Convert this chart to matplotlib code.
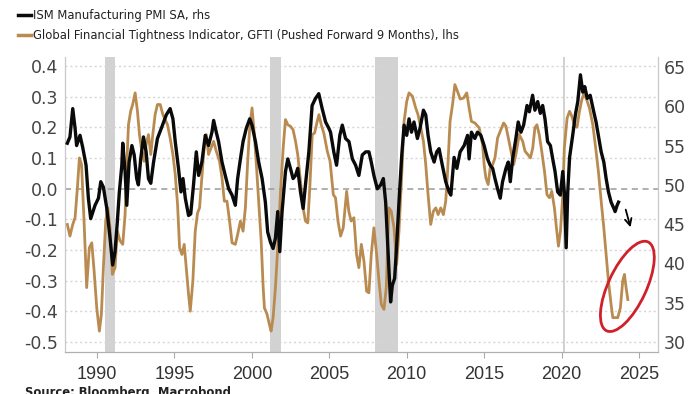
import matplotlib
matplotlib.use("Agg")
import matplotlib.pyplot as plt
from matplotlib.lines import Line2D
from matplotlib.patches import Ellipse
from matplotlib.transforms import IdentityTransform
from matplotlib import font_manager
import numpy as np

# ---------------- data ----------------
pmi_years = [1988.08, 1988.25, 1988.43, 1988.58, 1988.68, 1988.90, 1989.07, 1989.29, 1989.44, 1989.59,
             1989.87, 1990.09, 1990.24, 1990.41, 1990.63, 1990.84, 1991.01, 1991.16, 1991.31, 1991.44,
             1991.60, 1991.66, 1991.81, 1991.92, 1992.07, 1992.25, 1992.40, 1992.56, 1992.67, 1992.82,
             1993.00, 1993.17, 1993.32, 1993.47, 1993.65, 1993.90, 1994.19, 1994.47, 1994.72, 1994.90,
             1995.05, 1995.26, 1995.42, 1995.55, 1995.70, 1995.91, 1996.05, 1996.23, 1996.41, 1996.56,
             1996.77, 1996.99, 1997.20, 1997.42, 1997.53, 1997.70, 1997.85, 1998.07, 1998.28, 1998.50,
             1998.72, 1998.93, 1999.08, 1999.26, 1999.43, 1999.64, 1999.86, 2000.01, 2000.23, 2000.44,
             2000.66, 2000.87, 2001.02, 2001.20, 2001.37, 2001.52, 2001.67, 2001.80, 2001.95, 2002.17,
             2002.32, 2002.49, 2002.66, 2002.82, 2002.96, 2003.14, 2003.31, 2003.46, 2003.68, 2003.89,
             2004.11, 2004.32, 2004.54, 2004.76, 2004.97, 2005.08, 2005.29, 2005.47, 2005.68, 2005.84,
             2006.05, 2006.27, 2006.49, 2006.70, 2006.91, 2007.13, 2007.35, 2007.56, 2007.71, 2007.88,
             2008.10, 2008.32, 2008.49, 2008.64, 2008.75, 2008.85, 2008.96, 2009.07, 2009.22, 2009.35,
             2009.50, 2009.68, 2009.83, 2010.00, 2010.15, 2010.31, 2010.47, 2010.69, 2010.86, 2011.08,
             2011.23, 2011.38, 2011.55, 2011.77, 2011.94, 2012.09, 2012.30, 2012.52, 2012.74, 2012.85,
             2013.06, 2013.24, 2013.45, 2013.71, 2013.93, 2014.03, 2014.18, 2014.40, 2014.57, 2014.79,
             2015.00, 2015.22, 2015.39, 2015.55, 2015.70, 2015.87, 2016.04, 2016.19, 2016.41, 2016.56,
             2016.69, 2016.84, 2017.05, 2017.20, 2017.38, 2017.55, 2017.77, 2017.92, 2018.13, 2018.28,
             2018.46, 2018.63, 2018.78, 2018.93, 2019.10, 2019.28, 2019.43, 2019.58, 2019.75, 2019.92,
             2020.08, 2020.18, 2020.30, 2020.40, 2020.52, 2020.72, 2020.90, 2021.05, 2021.22, 2021.37,
             2021.50, 2021.66, 2021.85, 2022.08, 2022.23, 2022.38, 2022.56, 2022.73, 2022.88, 2023.03,
             2023.20, 2023.38, 2023.46, 2023.59, 2023.68]
pmi_values = [55.3, 56.1, 59.7, 57.2, 55.0, 56.3, 54.8, 52.5, 48.3, 45.7,
              47.4, 48.3, 50.4, 49.7, 47.0, 43.2, 39.8, 41.5, 45.3, 49.1,
              52.5, 55.3, 51.7, 47.4, 52.9, 55.0, 53.8, 50.8, 50.0, 53.3,
              56.1, 54.2, 50.8, 50.2, 52.9, 55.9, 57.4, 58.9, 59.7, 58.4,
              55.5, 52.1, 49.1, 50.8, 48.3, 46.1, 46.3, 50.0, 54.2, 51.2,
              52.9, 56.3, 55.0, 56.7, 58.2, 56.7, 55.5, 52.9, 51.2, 49.5,
              48.7, 47.4, 50.8, 53.3, 55.5, 57.2, 58.4, 57.6, 55.5, 52.9,
              50.8, 47.8, 44.0, 42.7, 41.9, 43.2, 46.6, 41.5, 46.6, 51.7,
              53.3, 52.1, 50.8, 51.2, 52.1, 49.1, 47.0, 50.0, 54.2, 60.1,
              61.0, 61.6, 59.7, 58.0, 57.2, 56.7, 54.2, 52.5, 56.3, 57.6,
              55.9, 55.5, 53.3, 52.5, 51.2, 53.8, 54.2, 54.2, 52.9, 51.2,
              49.5, 50.0, 50.8, 47.8, 43.2, 39.3, 35.1, 37.2, 38.1, 42.3,
              47.8, 53.8, 57.6, 56.3, 58.4, 56.7, 58.0, 55.9, 57.2, 59.5,
              58.9, 56.3, 54.2, 52.9, 54.2, 54.6, 52.5, 50.4, 49.1, 48.7,
              53.5, 52.1, 54.2, 55.0, 56.3, 53.3, 56.7, 55.9, 56.7, 56.3,
              55.0, 53.3, 52.5, 52.1, 50.8, 49.5, 48.3, 50.4, 52.1, 52.9,
              50.4, 53.3, 55.9, 58.0, 56.7, 57.6, 60.1, 59.3, 61.4, 59.5,
              60.6, 59.1, 60.1, 58.4, 55.5, 55.0, 53.3, 51.7, 49.1, 48.7,
              51.7, 49.1, 42.0, 49.1, 53.5, 56.3, 59.0, 60.6, 64.0, 61.8,
              62.5, 61.0, 61.4, 59.3, 58.0, 56.3, 54.2, 52.9, 50.8, 49.1,
              47.8, 47.0, 46.6, 47.4, 47.8]

gfti_years = [1988.08, 1988.25, 1988.43, 1988.58, 1988.73, 1988.86, 1989.00, 1989.16, 1989.33, 1989.50,
              1989.66, 1989.81, 1989.98, 1990.15, 1990.28, 1990.41, 1990.56, 1990.69, 1990.84, 1990.99,
              1991.16, 1991.31, 1991.49, 1991.66, 1991.81, 1991.92, 1992.03, 1992.17, 1992.30, 1992.46,
              1992.61, 1992.74, 1992.89, 1993.04, 1993.17, 1993.32, 1993.47, 1993.60, 1993.75, 1993.90,
              1994.08, 1994.25, 1994.40, 1994.55, 1994.72, 1994.90, 1995.05, 1995.20, 1995.33, 1995.48,
              1995.63, 1995.76, 1995.91, 1996.02, 1996.19, 1996.34, 1996.49, 1996.62, 1996.77, 1996.93,
              1997.06, 1997.20, 1997.36, 1997.53, 1997.70, 1997.91, 1998.07, 1998.22, 1998.39, 1998.56,
              1998.72, 1998.93, 1999.08, 1999.26, 1999.43, 1999.58, 1999.73, 1999.86, 2000.01, 2000.16,
              2000.29, 2000.44, 2000.60, 2000.73, 2000.81, 2000.98, 2001.13, 2001.24, 2001.37, 2001.52,
              2001.67, 2001.84, 2002.02, 2002.17, 2002.32, 2002.49, 2002.66, 2002.82, 2002.96, 2003.14,
              2003.31, 2003.46, 2003.61, 2003.74, 2003.90, 2004.05, 2004.22, 2004.33, 2004.48, 2004.65,
              2004.87, 2005.05, 2005.26, 2005.40, 2005.56, 2005.73, 2005.90, 2006.12, 2006.26, 2006.41,
              2006.59, 2006.76, 2006.91, 2007.07, 2007.24, 2007.41, 2007.56, 2007.71, 2007.88, 2008.06,
              2008.21, 2008.36, 2008.53, 2008.68, 2008.85, 2009.00, 2009.18, 2009.35, 2009.50, 2009.66,
              2009.83, 2010.00, 2010.15, 2010.37, 2010.58, 2010.73, 2010.91, 2011.08, 2011.23, 2011.38,
              2011.55, 2011.72, 2011.88, 2012.03, 2012.20, 2012.37, 2012.52, 2012.63, 2012.80, 2012.96,
              2013.11, 2013.28, 2013.45, 2013.67, 2013.88, 2014.03, 2014.18, 2014.40, 2014.68, 2014.90,
              2015.00, 2015.11, 2015.26, 2015.39, 2015.55, 2015.70, 2015.87, 2016.04, 2016.26, 2016.41,
              2016.56, 2016.73, 2016.91, 2017.05, 2017.27, 2017.49, 2017.64, 2017.82, 2017.99, 2018.14,
              2018.28, 2018.41, 2018.56, 2018.72, 2018.90, 2019.06, 2019.22, 2019.37, 2019.54, 2019.67,
              2019.80, 2019.93, 2020.08, 2020.18, 2020.36, 2020.52, 2020.67, 2020.84, 2021.00, 2021.15,
              2021.31, 2021.45, 2021.62, 2021.80, 2022.02, 2022.23, 2022.38, 2022.56, 2022.73, 2022.88,
              2023.03, 2023.20, 2023.31, 2023.46, 2023.63, 2023.80, 2023.95, 2024.06, 2024.17, 2024.28]
gfti_values = [-0.117, -0.155, -0.117, -0.095, 0.002, 0.100, 0.078, -0.106, -0.323, -0.193,
               -0.177, -0.269, -0.389, -0.465, -0.410, -0.258, -0.106, -0.063, -0.128, -0.280,
               -0.258, -0.139, -0.171, -0.182, -0.085, 0.078, 0.208, 0.252, 0.274, 0.312,
               0.252, 0.176, 0.122, 0.089, 0.143, 0.176, 0.111, 0.176, 0.241, 0.274,
               0.274, 0.241, 0.225, 0.208, 0.165, 0.111, 0.046, -0.052, -0.193, -0.215,
               -0.182, -0.258, -0.345, -0.400, -0.300, -0.140, -0.080, -0.063, 0.035, 0.143,
               0.176, 0.111, 0.132, 0.154, 0.122, 0.089, 0.035, -0.041, -0.041, -0.106,
               -0.177, -0.182, -0.150, -0.106, -0.139, -0.063, 0.089, 0.198, 0.263, 0.176,
               0.078, -0.041, -0.171, -0.323, -0.389, -0.410, -0.443, -0.465, -0.421, -0.323,
               -0.193, -0.020, 0.132, 0.225, 0.208, 0.203, 0.192, 0.154, 0.111, 0.024,
               -0.063, -0.106, -0.112, 0.002, 0.176, 0.181, 0.219, 0.241, 0.208, 0.180,
               0.122, 0.089, -0.020, -0.030, -0.106, -0.155, -0.128, -0.009, -0.074, -0.106,
               -0.095, -0.215, -0.258, -0.182, -0.237, -0.335, -0.340, -0.215, -0.128, -0.215,
               -0.302, -0.378, -0.394, -0.323, -0.063, -0.074, -0.128, -0.248, -0.139, 0.024,
               0.219, 0.284, 0.312, 0.301, 0.263, 0.241, 0.198, 0.154, 0.078, -0.020,
               -0.117, -0.074, -0.063, -0.085, -0.063, -0.085, -0.041, 0.046, 0.219, 0.274,
               0.339, 0.317, 0.292, 0.295, 0.312, 0.263, 0.219, 0.214, 0.198, 0.143,
               0.078, 0.035, 0.013, 0.067, 0.078, 0.100, 0.165, 0.187, 0.214, 0.203,
               0.165, 0.122, 0.078, 0.111, 0.176, 0.154, 0.122, 0.111, 0.100, 0.132,
               0.198, 0.208, 0.176, 0.122, 0.056, -0.020, -0.030, -0.009, -0.063, -0.128,
               -0.188, -0.139, -0.020, 0.132, 0.230, 0.252, 0.235, 0.205, 0.200, 0.250,
               0.290, 0.310, 0.290, 0.263, 0.208, 0.122, 0.056, -0.041, -0.128, -0.215,
               -0.302, -0.378, -0.421, -0.421, -0.421, -0.389, -0.302, -0.280, -0.323, -0.362]

recessions = [(1990.52, 1991.17), (2001.2, 2001.85), (2007.92, 2009.45), (2020.1, 2020.2)]

left_ticks = [0.4, 0.3, 0.2, 0.1, 0.0, -0.1, -0.2, -0.3, -0.4, -0.5]
right_ticks = [65, 60, 55, 50, 45, 40, 35, 30]
x_ticks = [1990, 1995, 2000, 2005, 2010, 2015, 2020, 2025]

label_pmi = "ISM Manufacturing PMI SA, rhs"
label_gfti = "Global Financial Tightness Indicator, GFTI (Pushed Forward 9 Months), lhs"
source_text = "Source: Bloomberg, Macrobond"

# ---------------- style ----------------
GOLD = "#b98b51"
BLACK = "#0a0a0a"
TICKCOL = "#444444"

# pick the narrowest available sans family for the condensed legend text
names = {f.name for f in font_manager.fontManager.ttflist}
cond_stretch = any(("DejaVu Sans" == f.name and f.stretch == "condensed") for f in font_manager.fontManager.ttflist)
if "Liberation Sans Narrow" in names:
    LEG_FAMILY, LEG_STRETCH = "Liberation Sans Narrow", "normal"
elif cond_stretch:
    LEG_FAMILY, LEG_STRETCH = "DejaVu Sans", "condensed"
else:
    LEG_FAMILY, LEG_STRETCH = "Roboto", "normal"

fig = plt.figure(figsize=(7.0, 3.94), dpi=100)
ax = fig.add_axes([65/700, 1-352/394, (658-65)/700, (352-57)/394])
ax2 = ax.twinx()

for a, b in recessions:
    ax.axvspan(a, b, color="#d2d2d2", lw=0, zorder=0)

for t in left_ticks:
    if t == 0.0:
        ax.axhline(t, color="#9a9a9a", lw=1.1, ls=(0, (4, 3)), zorder=1)
    else:
        ax.axhline(t, color="#d6d6d6", lw=1.0, ls=(0, (1.5, 2)), zorder=1)

ax.plot(gfti_years, gfti_values, color=GOLD, lw=2.0, zorder=3, solid_joinstyle="round")
ax2.plot(pmi_years, pmi_values, color=BLACK, lw=2.4, zorder=4, solid_joinstyle="round")

ax.set_xlim(1987.93, 2026.23)
ax.set_ylim(-0.533, 0.429)
ax2.set_ylim(28.73, 66.27)

ax.set_yticks(left_ticks)
ax.set_yticklabels([f"{t:.1f}" for t in left_ticks])
ax2.set_yticks(right_ticks)
ax2.set_yticklabels([str(t) for t in right_ticks])
ax.set_xticks(x_ticks)
ax.set_xticklabels([str(t) for t in x_ticks])

ax.tick_params(axis="y", length=0, pad=5, labelsize=12.5, labelcolor=TICKCOL)
ax2.tick_params(axis="y", length=0, pad=4, labelsize=12.5, labelcolor=TICKCOL)
ax.tick_params(axis="x", length=4, width=0.8, color="#aaaaaa", pad=6, labelcolor="#333333")
for lab in ax.get_xticklabels():
    lab.set_fontfamily("Liberation Sans")
    lab.set_fontsize(13)
for a in (ax, ax2):
    for lab in a.get_yticklabels():
        lab.set_fontfamily("DejaVu Sans")

for a in (ax, ax2):
    a.spines["top"].set_visible(False)
    a.spines["left"].set_color("#c8c8c8")
    a.spines["right"].set_color("#c8c8c8")
    a.spines["bottom"].set_color("#b0b0b0")

# legend (figure-level)
fig.add_artist(Line2D([18/700, 31/700], [1-15/394, 1-15/394], color=BLACK, lw=2.5, transform=fig.transFigure))
fig.add_artist(Line2D([18/700, 31/700], [1-35/394, 1-35/394], color=GOLD, lw=2.5, transform=fig.transFigure))
t1 = fig.text(33/700, 1-15/394, label_pmi, va="center", ha="left", fontsize=11, color="#222222",
              family=LEG_FAMILY, fontstretch=LEG_STRETCH)
t2 = fig.text(33/700, 1-35/394, label_gfti, va="center", ha="left", fontsize=11, color="#222222",
              family=LEG_FAMILY, fontstretch=LEG_STRETCH)
t3 = fig.text(25/700, 1-386/394, source_text, va="top", ha="left", fontsize=11, color="#222222",
              family=LEG_FAMILY, fontstretch=LEG_STRETCH, fontweight="bold")

# fit the legend text to the width it occupies in the reference (427 px for the long line)
fig.canvas.draw()
r = fig.canvas.get_renderer()
w = t2.get_window_extent(r).width
scale = min(1.0, 427.0 / w)
for t in (t1, t2, t3):
    t.set_fontsize(11 * scale)

# hand-drawn style annotations
ax.annotate("", xy=(2024.5, -0.135), xytext=(2024.1, -0.06),
            arrowprops=dict(arrowstyle="->", color="black", lw=1.3, mutation_scale=12), zorder=6)

fig.canvas.draw()
cx, cy = ax.transData.transform((2024.25, -0.319))
ell = Ellipse((cx, cy), 98, 38, angle=65, transform=IdentityTransform(), fill=False,
              edgecolor="#d0202a", lw=2.0, zorder=7)
fig.add_artist(ell)

fig.savefig("out.png", dpi=100)
